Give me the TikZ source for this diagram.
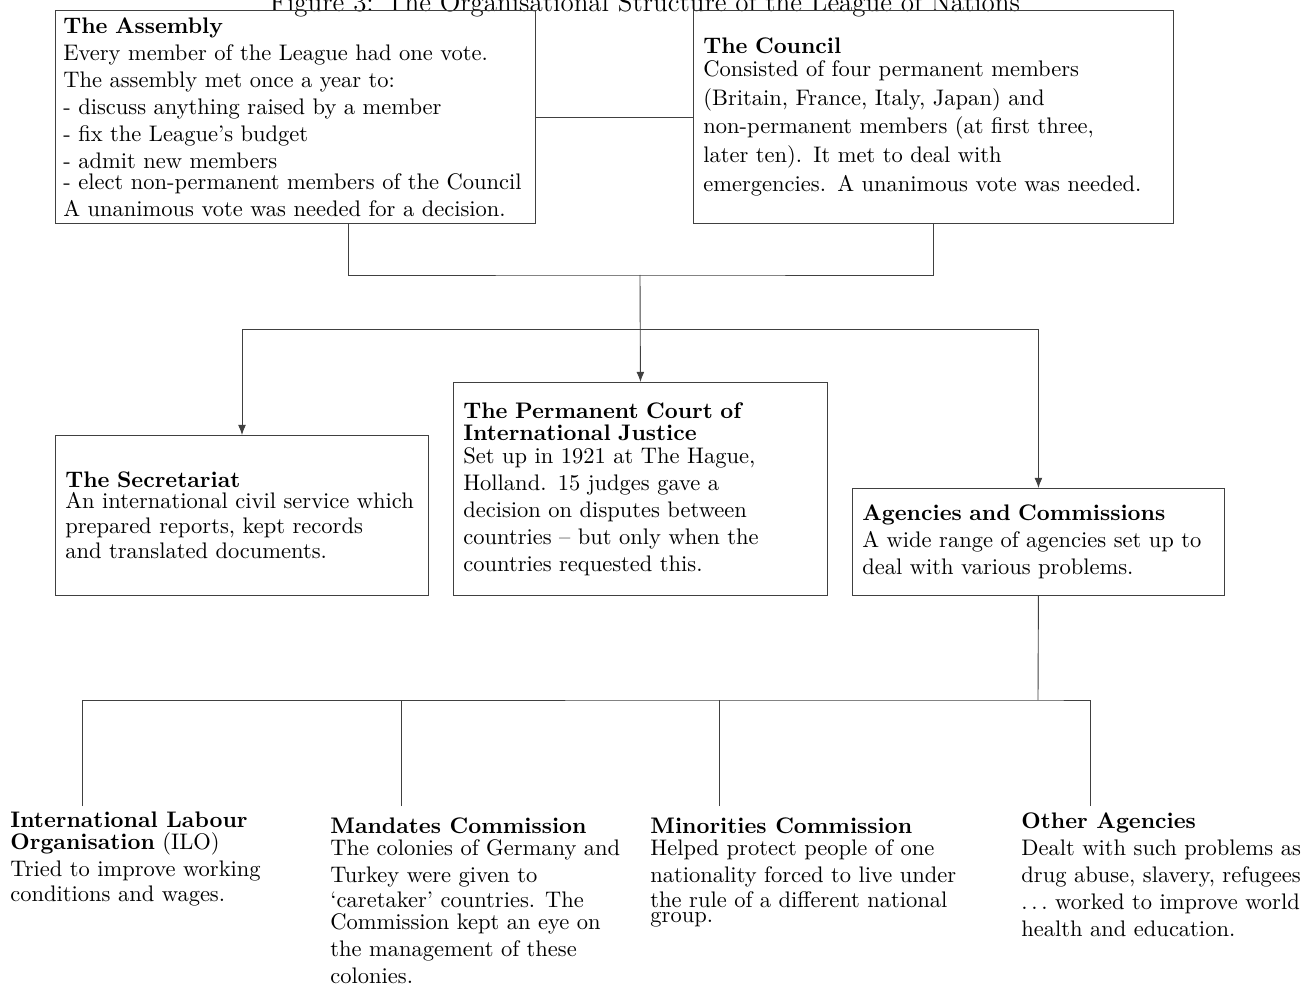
\documentclass[tikz,border=0pt]{standalone}
\usetikzlibrary{arrows.meta}
\begin{document}
\begin{tikzpicture}[x=0.4444pt,y=-0.4444pt,
  box/.style={draw=black!75, thin, align=left, anchor=north west, inner xsep=4.4pt, inner ysep=0pt},
  note/.style={align=left, anchor=north west, inner sep=0pt},
  link/.style={draw=black!75, thin},
  arrow/.style={link, -{Latex[length=4.5pt,width=3.5pt]}}]
\useasboundingbox (0,0) rectangle (1314,987);
%%% The title, cut by the upper edge
\node[font=\large, anchor=base] (title) at (645,12) {Figure 3: The Organisational Structure of the League of Nations};
%%% The two ruling bodies
\node[box, inner xsep=3.5pt, text width=206.3pt, minimum height=94.7pt] (assembly) at (55,10)
{\textbf{The Assembly}\\
Every member of the League had one vote.\\
The assembly met once a year to:\\
- discuss anything raised by a member\\
- fix the League's budget\\
- admit new members\\[-2.7pt]
- elect non-permanent members of the Council\\
A unanimous vote was needed for a decision.};
\node[box, text width=204.5pt, minimum height=94.7pt, font={\fontsize{10}{12.7}\selectfont}] (council) at (693,10)
{\textbf{The Council}\\[-2.5pt]
Consisted of four permanent members\\
(Britain, France, Italy, Japan) and\\
non-permanent members (at first three,\\
later ten). It met to deal with\\
emergencies. A unanimous vote was needed.};
%%% The bodies below them
\node[box, text width=157pt, minimum height=71.1pt, font={\fontsize{10}{11.1}\selectfont}] (secretariat) at (55,435)
{\textbf{The Secretariat}\\[-2pt]
An international civil service which\\
prepared reports, kept records\\
and translated documents.};
\node[box, text width=157.4pt, minimum height=94.7pt] (court) at (453,382)
{\textbf{The Permanent Court of}\\[-2.2pt]
\textbf{International Justice}\\[-1.8pt]
Set up in 1921 at The Hague,\\
Holland. 15 judges gave a\\
decision on disputes between\\
countries -- but only when the\\
countries requested this.};
\node[box, text width=156.5pt, minimum height=47.6pt] (agencies) at (852,488)
{\textbf{Agencies and Commissions}\\
A wide range of agencies set up to\\
deal with various problems.};
%%% The agencies
\node[note] (ilo) at (10,811)
{\textbf{International Labour}\\[-2.2pt]
\textbf{Organisation} (ILO)\\
Tried to improve working\\[-0.9pt]
conditions and wages.};
\node[note] (mandates) at (330,817)
{\textbf{Mandates Commission}\\[-2pt]
The colonies of Germany and\\
Turkey were given to\\[-0.9pt]
`caretaker' countries. The\\[-2.2pt]
Commission kept an eye on\\
the management of these\\
colonies.};
\node[note] (minorities) at (650,817)
{\textbf{Minorities Commission}\\[-2pt]
Helped protect people of one\\
nationality forced to live under\\[-0.9pt]
the rule of a different national\\[-5.6pt]
group.};
\node[note] (others) at (1021,812)
{\textbf{Other Agencies}\\
Dealt with such problems as\\
drug abuse, slavery, refugees\\
$\ldots$ worked to improve world\\
health and education.};
%%% Connectors
\coordinate (merge) at (640,275);
\coordinate (split) at (640,329);
\coordinate (fan) at (1038,700);
\coordinate (leg1) at (82,806);
\coordinate (leg2) at (401,806);
\coordinate (leg3) at (719,806);
\coordinate (leg4) at (1090,806);
\draw[link] (assembly.east) -- (council.west);
\draw[link] ([xshift=23.5pt]assembly.south) |- (merge) -| (council.south);
\draw[arrow] (merge) -- (court.north);
\draw[arrow] (split) -| (secretariat.north);
\draw[arrow] (split) -| (agencies.north);
\draw[link] (agencies.south) -- (fan);
\draw[link] (leg1) |- (fan) -| (leg4);
\draw[link] (leg2) -- (leg2 |- fan);
\draw[link] (leg3) -- (leg3 |- fan);
\end{tikzpicture}
\end{document}
